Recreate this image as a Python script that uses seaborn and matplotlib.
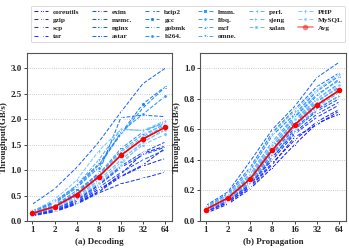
import numpy as np
import pandas as pd
import matplotlib
matplotlib.use("Agg")
import matplotlib.pyplot as plt
import seaborn as sns

threads = ["1", "2", "4", "8", "16", "32", "64"]

apps = ["coreutils", "gzip", "scp", "tar", "exim", "memc.", "nginx", "astar",
        "bzip2", "gcc", "gobmk", "h264.", "hmm.", "libq.", "mcf", "omne.",
        "perl.", "sjeng", "xalan", "PHP", "MySQL"]

# decoding throughput (GB/s)
decoding = {
    "coreutils": [0.12, 0.20, 0.35, 0.58, 0.92, 1.33, 1.47],
    "gzip":      [0.13, 0.21, 0.37, 0.62, 0.88, 1.10, 1.43],
    "scp":       [0.11, 0.19, 0.34, 0.57, 0.87, 1.08, 1.23],
    "tar":       [0.10, 0.18, 0.33, 0.55, 0.73, 0.84, 0.96],
    "exim":      [0.14, 0.24, 0.40, 0.70, 1.05, 1.30, 1.45],
    "memc.":     [0.15, 0.25, 0.42, 0.72, 1.08, 1.35, 1.55],
    "nginx":     [0.13, 0.22, 0.38, 0.66, 0.95, 1.20, 1.40],
    "astar":     [0.33, 0.63, 1.05, 1.55, 2.14, 2.70, 3.00],
    "bzip2":     [0.17, 0.30, 0.55, 0.95, 2.03, 2.08, 2.05],
    "gcc":       [0.20, 0.38, 0.70, 1.12, 1.72, 2.30, 2.64],
    "gobmk":     [0.19, 0.36, 0.67, 1.10, 1.70, 2.22, 2.63],
    "h264.":     [0.18, 0.35, 0.65, 1.05, 1.75, 2.10, 2.45],
    "hmm.":      [0.16, 0.30, 0.60, 0.92, 1.42, 1.75, 1.95],
    "libq.":     [0.15, 0.28, 0.55, 0.90, 1.38, 1.70, 1.90],
    "mcf":       [0.14, 0.27, 0.50, 0.85, 1.30, 1.62, 1.88],
    "omne.":     [0.17, 0.32, 0.70, 1.20, 1.80, 1.78, 1.92],
    "perl.":     [0.15, 0.26, 0.48, 0.80, 1.20, 1.55, 1.80],
    "sjeng":     [0.16, 0.29, 0.52, 0.88, 1.35, 1.65, 1.93],
    "xalan":     [0.14, 0.25, 0.45, 0.76, 1.15, 1.50, 1.70],
    "PHP":       [0.19, 0.42, 0.80, 1.38, 1.80, 1.78, 1.97],
    "MySQL":     [0.15, 0.27, 0.45, 0.74, 1.10, 1.55, 1.78],
}
decoding_avg = [0.15, 0.28, 0.52, 0.87, 1.29, 1.61, 1.84]

# propagation throughput (GB/s)
propagation = {
    "coreutils": [0.05, 0.11, 0.21, 0.35, 0.50, 0.64, 0.70],
    "gzip":      [0.06, 0.12, 0.23, 0.38, 0.53, 0.65, 0.73],
    "scp":       [0.06, 0.12, 0.22, 0.37, 0.55, 0.63, 0.72],
    "tar":       [0.07, 0.13, 0.24, 0.40, 0.57, 0.68, 0.76],
    "exim":      [0.07, 0.14, 0.25, 0.42, 0.58, 0.70, 0.78],
    "memc.":     [0.06, 0.13, 0.24, 0.41, 0.60, 0.72, 0.80],
    "nginx":     [0.07, 0.14, 0.26, 0.44, 0.61, 0.73, 0.82],
    "astar":     [0.10, 0.19, 0.39, 0.60, 0.75, 0.94, 1.04],
    "bzip2":     [0.09, 0.18, 0.35, 0.58, 0.73, 0.88, 0.97],
    "gcc":       [0.09, 0.17, 0.33, 0.56, 0.70, 0.85, 0.95],
    "gobmk":     [0.08, 0.16, 0.30, 0.50, 0.68, 0.82, 0.93],
    "h264.":     [0.08, 0.16, 0.29, 0.48, 0.66, 0.80, 0.90],
    "hmm.":      [0.08, 0.15, 0.28, 0.47, 0.64, 0.78, 0.88],
    "libq.":     [0.07, 0.15, 0.27, 0.46, 0.63, 0.76, 0.86],
    "mcf":       [0.08, 0.16, 0.31, 0.52, 0.69, 0.83, 0.92],
    "omne.":     [0.07, 0.14, 0.26, 0.45, 0.62, 0.75, 0.84],
    "perl.":     [0.08, 0.15, 0.28, 0.49, 0.65, 0.79, 0.87],
    "sjeng":     [0.07, 0.14, 0.25, 0.43, 0.59, 0.74, 0.82],
    "xalan":     [0.08, 0.15, 0.27, 0.46, 0.62, 0.77, 0.85],
    "PHP":       [0.09, 0.17, 0.34, 0.57, 0.72, 0.86, 0.96],
    "MySQL":     [0.08, 0.16, 0.30, 0.50, 0.67, 0.80, 0.89],
}
propagation_avg = [0.075, 0.15, 0.275, 0.465, 0.63, 0.76, 0.855]

markers = [".", "*", "+", "_", "1", "x", "2", "|", "3", "o", "4", "h",
           "s", "p", "^", "v", "<", ">", "8", "d", "H"]

sns.set_theme(style="ticks")
plt.rcParams["font.family"] = ["Liberation Serif", "DejaVu Serif"]
plt.rcParams["font.weight"] = "bold"

colors = sns.blend_palette(["#1a1aff", "#1e8cff", "#8ccaff"], len(apps))

fig = plt.figure(figsize=(3.49, 2.48), dpi=100)
ax_a = fig.add_axes([0.077, 0.109, 0.415, 0.677])
ax_b = fig.add_axes([0.573, 0.109, 0.418, 0.677])

x = np.arange(len(threads))


def draw(ax, data, avg, ymax, yticks, title):
    for i, app in enumerate(apps):
        sns.lineplot(x=x, y=data[app], ax=ax, color=colors[i], marker=markers[i],
                     markersize=3, markeredgewidth=0.7, linestyle="--",
                     linewidth=0.75, label=app, legend=False)
    sns.lineplot(x=x, y=avg, ax=ax, color="red", marker="o", markersize=4,
                 markeredgewidth=0, linewidth=1.2, label="Avg", legend=False)
    ax.set_xticks(x)
    ax.set_xticklabels(threads)
    ax.set_xlim(-0.25, 6.3)
    ax.set_ylim(0, ymax)
    ax.set_yticks(yticks)
    ax.yaxis.grid(True, linestyle=":", color="#bbbbbb", linewidth=0.6)
    ax.set_axisbelow(True)
    ax.tick_params(labelsize=6.5, length=2, width=0.6, pad=1.5)
    for lab in ax.get_xticklabels() + ax.get_yticklabels():
        lab.set_fontweight("bold")
    for s in ax.spines.values():
        s.set_color("#555555")
        s.set_linewidth(0.8)
    ax.set_ylabel("Throughput(GB/s)", fontsize=6.5, fontweight="bold", labelpad=2)
    ax.set_xlabel(title, fontsize=6.5, fontweight="bold", labelpad=3)


draw(ax_a, decoding, decoding_avg, 3.3, [0.0, 0.5, 1.0, 1.5, 2.0, 2.5, 3.0], "(a) Decoding")
draw(ax_b, propagation, propagation_avg, 1.1, [0.0, 0.2, 0.4, 0.6, 0.8, 1.0], "(b) Propagation")
ax_a.yaxis.set_major_formatter(matplotlib.ticker.FormatStrFormatter("%.1f"))
ax_b.yaxis.set_major_formatter(matplotlib.ticker.FormatStrFormatter("%.1f"))

handles, labels = ax_a.get_legend_handles_labels()
leg = fig.legend(handles, labels, loc="upper left", bbox_to_anchor=(0.078, 0.992),
                 ncol=6, frameon=True, handlelength=2.0,
                 columnspacing=1.75, handletextpad=0.7, labelspacing=0.3,
                 borderpad=0.4, prop={"weight": "bold", "size": 5.2})
leg.get_frame().set_edgecolor("#cccccc")
leg.get_frame().set_linewidth(0.6)
for h in leg.legend_handles:
    if h.get_label() == "Avg":
        h.set_alpha(0.5)

fig.savefig("out.png", dpi=100)
